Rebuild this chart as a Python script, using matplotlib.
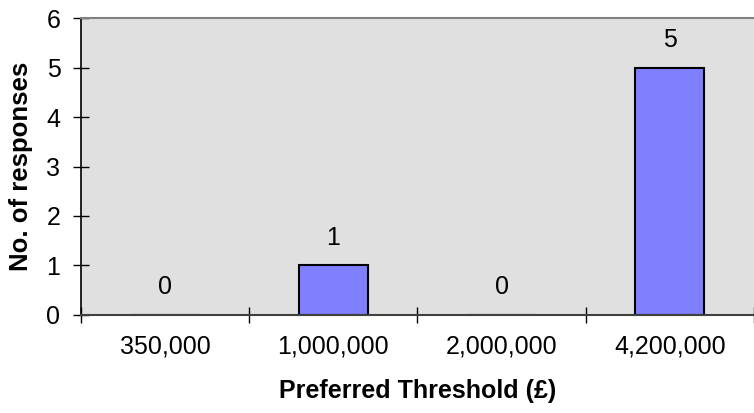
import matplotlib
matplotlib.use("Agg")
import matplotlib.pyplot as plt
import numpy as np

# data
thresholds = ["350,000", "1,000,000", "2,000,000", "4,200,000"]
responses = [0, 1, 0, 5]

plt.rcParams['font.family'] = ['Liberation Sans', 'DejaVu Sans']

fig = plt.figure(figsize=(7.54, 4.13), dpi=100)
ax = fig.add_axes([0.1074, 0.2373, 0.8926, 0.7191])
ax.set_facecolor("#E0E0E0")

x = np.arange(len(thresholds))
bars = ax.bar(x, responses, width=0.41, color="#8080FF", edgecolor="black", linewidth=1.5)

# value labels above each bar
for xi, v in zip(x, responses):
    ax.annotate(str(v), (xi, v), xytext=(0, 15), textcoords="offset points",
                ha="center", va="baseline", fontsize=18)

ax.set_xlim(-0.5, 3.45)
ax.set_ylim(0, 6)
ax.set_yticks(range(0, 7))

# category labels at centres, tick marks at the boundaries
ax.set_xticks(x)
ax.set_xticklabels(thresholds)
ax.set_xticks(np.arange(-0.5, 4, 1), minor=True)
ax.tick_params(axis="x", which="major", length=0, pad=14, labelsize=18)
ax.tick_params(axis="x", which="minor", direction="inout", length=11.5, width=1, color="black")
ax.tick_params(axis="y", direction="inout", length=11.5, width=1, pad=9, labelsize=18)

ax.spines["right"].set_visible(False)
ax.spines["top"].set_color("#808080")
ax.spines["top"].set_linewidth(1.5)
ax.spines["left"].set_linewidth(1.2)
ax.spines["bottom"].set_color("#404040")
ax.spines["bottom"].set_linewidth(1.5)

ax.set_xlabel("Preferred Threshold (£)", fontsize=18, fontweight="bold")
ax.set_ylabel("No. of responses", fontsize=18.5, fontweight="bold")
ax.xaxis.set_label_coords(0.5, -0.215)
ax.yaxis.set_label_coords(-0.072, 0.5)

fig.savefig("out.png", dpi=100)
